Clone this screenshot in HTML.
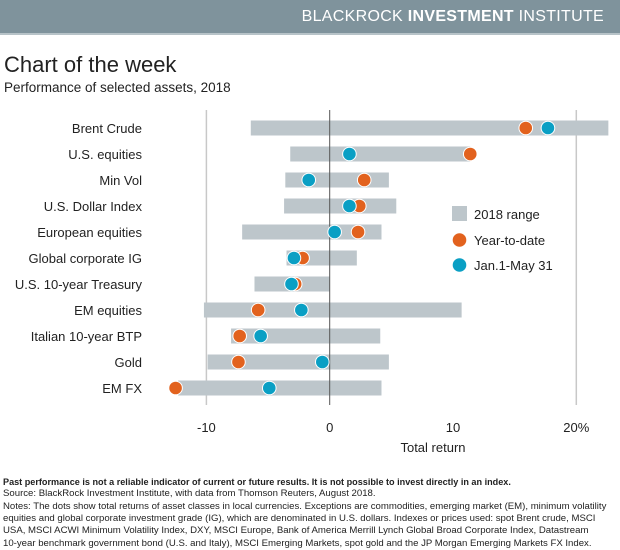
<!DOCTYPE html>
<html><head><meta charset="utf-8">
<style>
body{margin:0;width:620px;height:550px;background:#fff;font-family:"Liberation Sans",sans-serif;overflow:hidden;position:relative}
.hdr{position:absolute;left:0;top:0;width:620px;height:33px;background:#7f939c;border-bottom:2px solid #b7c3c8}
.hdr span{position:absolute;right:16px;top:8px;color:#fff;font-size:16px;letter-spacing:0.3px}
.t{position:absolute;left:4px;top:52px;font-size:22px;color:#222}
.st{position:absolute;left:4px;top:80px;font-size:13.5px;color:#222}
.fn{position:absolute;left:3px;font-size:9.6px;color:#222;line-height:12.2px;white-space:nowrap}
</style></head><body>
<div class="hdr"><span>BLACKROCK <b>INVESTMENT</b> INSTITUTE</span></div>
<div class="t">Chart of the week</div>
<div class="st">Performance of selected assets, 2018</div>
<svg id="c" width="620" height="460" style="position:absolute;left:0;top:0"></svg>
<div class="fn" style="top:476px;font-weight:bold;font-size:9.1px">Past performance is not a reliable indicator of current or future results. It is not possible to invest directly in an index.</div>
<div class="fn" style="top:488px">Source: BlackRock Investment Institute, with data from Thomson Reuters, August 2018.</div>
<div class="fn" style="top:501px">Notes: The dots show total returns of asset classes in local currencies. Exceptions are commodities, emerging market (EM), minimum volatility<br>equities and global corporate investment grade (IG), which are denominated in U.S. dollars. Indexes or prices used: spot Brent crude, MSCI<br>USA, MSCI ACWI Minimum Volatility Index, DXY, MSCI Europe, Bank of America Merrill Lynch Global Broad Corporate Index, Datastream<br>10-year benchmark government bond (U.S. and Italy), MSCI Emerging Markets, spot gold and the JP Morgan Emerging Markets FX Index.</div>
<script>
const categories=["Brent Crude","U.S. equities","Min Vol","U.S. Dollar Index","European equities","Global corporate IG","U.S. 10-year Treasury","EM equities","Italian 10-year BTP","Gold","EM FX"];
const rangeLow=[-6.4,-3.2,-3.6,-3.7,-7.1,-3.5,-6.1,-10.2,-8.0,-9.9,-12.3];
const rangeHigh=[22.6,11.4,4.8,5.4,4.2,2.2,0,10.7,4.1,4.8,4.2];
const ytd=[15.9,11.4,2.8,2.4,2.3,-2.2,-2.8,-5.8,-7.3,-7.4,-12.5];
const janMay=[17.7,1.6,-1.7,1.6,0.4,-2.9,-3.1,-2.3,-5.6,-0.6,-4.9];
const ticks=[-10,0,10,20];
const tickLabels=["-10","0","10","20%"];
const NS="http://www.w3.org/2000/svg";
const svg=document.getElementById('c');
const x=v=>329.7+v*12.33;
const y=i=>128+i*26;
function el(t,a){const e=document.createElementNS(NS,t);for(const k in a)e.setAttribute(k,a[k]);svg.appendChild(e);return e;}
ticks.forEach((t,i)=>{
  if(t!==0&&t!==10){const g=el('line',{x1:x(t),x2:x(t),y1:110,y2:405,stroke:'#c8c8c8','stroke-width':1.5});
  
  }
  const tl=el('text',{x:x(t),y:432,'text-anchor':'middle','font-size':13,fill:'#222'});tl.textContent=tickLabels[i];
  
  
});
categories.forEach((c,i)=>{
  const lb=el('text',{x:142,y:y(i)+5,'text-anchor':'end','font-size':13,fill:'#222'});lb.textContent=c;
  
  
  const b=el('rect',{x:x(rangeLow[i]),y:y(i)-7.5,width:x(rangeHigh[i])-x(rangeLow[i]),height:15,fill:'#bdc6cb'});
  
  
});
const z=el('line',{x1:x(0),x2:x(0),y1:110,y2:405,stroke:'#555','stroke-width':1});


categories.forEach((c,i)=>{
  const a=el('circle',{cx:x(ytd[i]),cy:y(i),r:6.8,fill:'#e2621e',stroke:'#fff','stroke-width':1});
  
  
  const b=el('circle',{cx:x(janMay[i]),cy:y(i),r:6.8,fill:'#0a9fc4',stroke:'#fff','stroke-width':1});
  
  
});
const xt=el('text',{x:x(10)-20,y:452,'text-anchor':'middle','font-size':13,fill:'#222'});xt.textContent='Total return';


const lr=el('rect',{x:452,y:206,width:15,height:15,fill:'#bdc6cb'});


const l1=el('circle',{cx:459.5,cy:240,r:6.8,fill:'#e2621e'});


const l2=el('circle',{cx:459.5,cy:265,r:6.8,fill:'#0a9fc4'});


[["2018 range",219],["Year-to-date",245],["Jan.1-May 31",270]].forEach(([t,yy])=>{
  const e=el('text',{x:474,y:yy,'font-size':13,fill:'#222'});e.textContent=t;
  
  
});
</script>
</body></html>
